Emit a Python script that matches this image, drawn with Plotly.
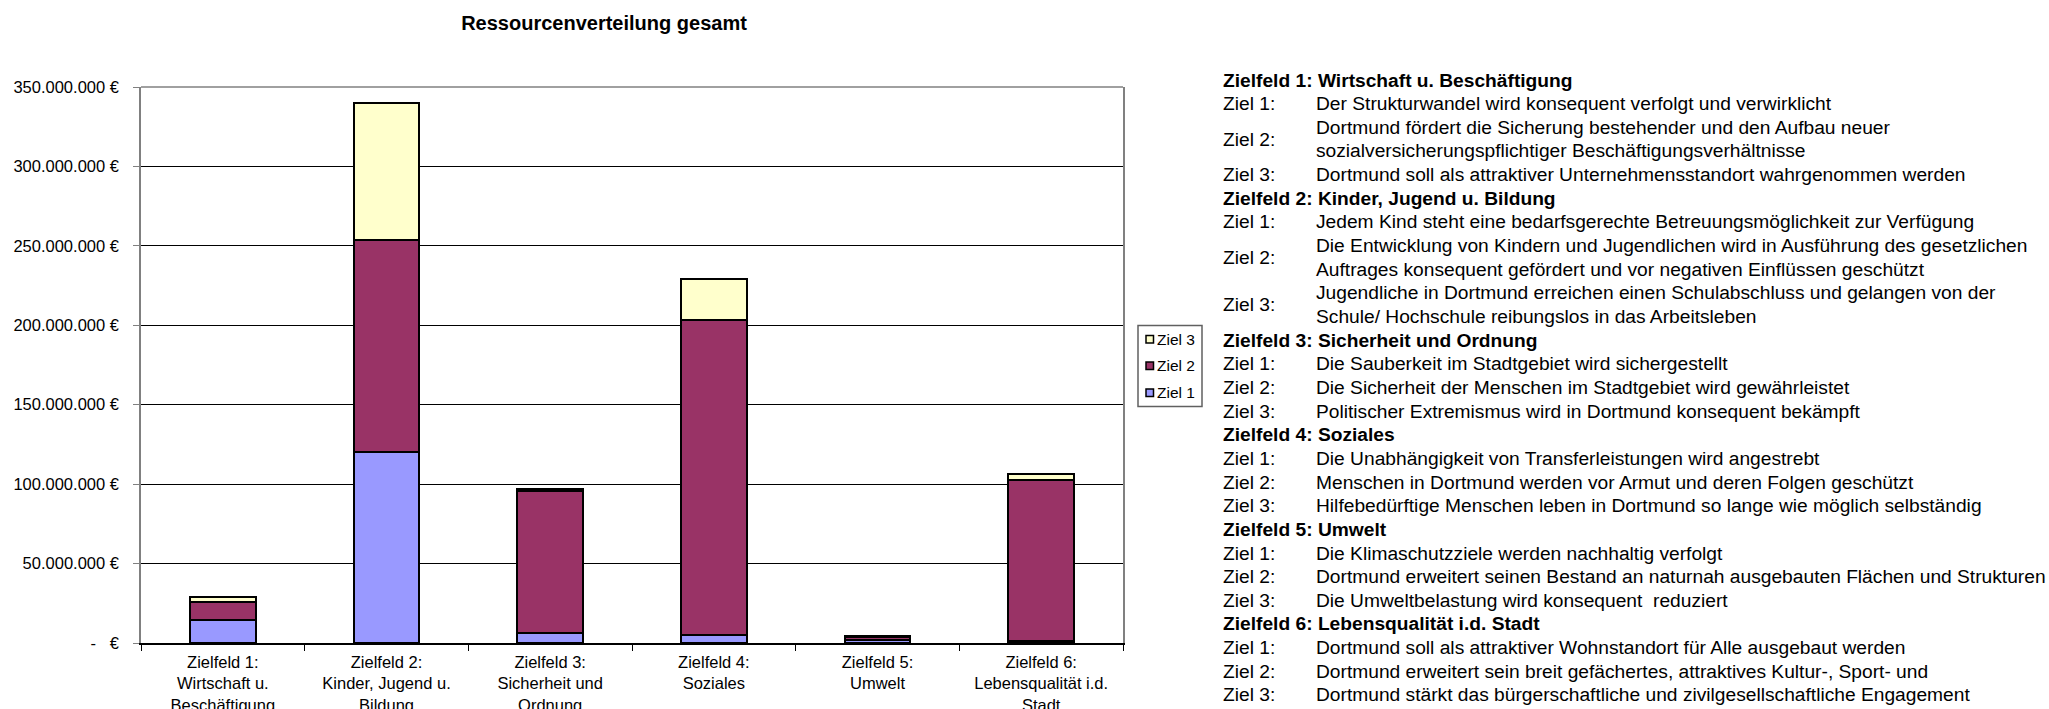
import plotly.graph_objects as go

W, H = 2049, 709
FONT = "Liberation Sans, Arial, sans-serif"

categories = [
    "Zielfeld 1:<br>Wirtschaft u.<br>Beschäftigung",
    "Zielfeld 2:<br>Kinder, Jugend u.<br>Bildung",
    "Zielfeld 3:<br>Sicherheit und<br>Ordnung",
    "Zielfeld 4:<br>Soziales",
    "Zielfeld 5:<br>Umwelt",
    "Zielfeld 6:<br>Lebensqualität i.d.<br>Stadt",
]
ziel1 = [14.5e6, 120e6, 6e6, 5e6, 2.0e6, 1.5e6]
ziel2 = [11.0e6, 134e6, 89.5e6, 198.5e6, 2.0e6, 101e6]
ziel3 = [3.5e6, 86e6, 1.2e6, 25.5e6, 0.6e6, 4.0e6]

series_names = ["Ziel 1", "Ziel 2", "Ziel 3"]
series_colors = ["#9999FF", "#993366", "#FFFFCC"]

y_tickvals = [0, 50e6, 100e6, 150e6, 200e6, 250e6, 300e6, 350e6]
y_ticktext = ["-\u00a0\u00a0\u00a0€", "50.000.000 €", "100.000.000 €", "150.000.000 €",
              "200.000.000 €", "250.000.000 €", "300.000.000 €", "350.000.000 €"]

title_text = "Ressourcenverteilung gesamt"

# Right-hand description block
fields = [
    ("Zielfeld 1: Wirtschaft u. Beschäftigung", [
        ["Der Strukturwandel wird konsequent verfolgt und verwirklicht"],
        ["Dortmund fördert die Sicherung bestehender und den Aufbau neuer",
         "sozialversicherungspflichtiger Beschäftigungsverhältnisse"],
        ["Dortmund soll als attraktiver Unternehmensstandort wahrgenommen werden"],
    ]),
    ("Zielfeld 2: Kinder, Jugend u. Bildung", [
        ["Jedem Kind steht eine bedarfsgerechte Betreuungsmöglichkeit zur Verfügung"],
        ["Die Entwicklung von Kindern und Jugendlichen wird in Ausführung des gesetzlichen",
         "Auftrages konsequent gefördert und vor negativen Einflüssen geschützt"],
        ["Jugendliche in Dortmund erreichen einen Schulabschluss und gelangen von der",
         "Schule/ Hochschule reibungslos in das Arbeitsleben"],
    ]),
    ("Zielfeld 3: Sicherheit und Ordnung", [
        ["Die Sauberkeit im Stadtgebiet wird sichergestellt"],
        ["Die Sicherheit der Menschen im Stadtgebiet wird gewährleistet"],
        ["Politischer Extremismus wird in Dortmund konsequent bekämpft"],
    ]),
    ("Zielfeld 4: Soziales", [
        ["Die Unabhängigkeit von Transferleistungen wird angestrebt"],
        ["Menschen in Dortmund werden vor Armut und deren Folgen geschützt"],
        ["Hilfebedürftige Menschen leben in Dortmund so lange wie möglich selbständig"],
    ]),
    ("Zielfeld 5: Umwelt", [
        ["Die Klimaschutzziele werden nachhaltig verfolgt"],
        ["Dortmund erweitert seinen Bestand an naturnah ausgebauten Flächen und Strukturen"],
        ["Die Umweltbelastung wird konsequent  reduziert"],
    ]),
    ("Zielfeld 6: Lebensqualität i.d. Stadt", [
        ["Dortmund soll als attraktiver Wohnstandort für Alle ausgebaut werden"],
        ["Dortmund erweitert sein breit gefächertes, attraktives Kultur-, Sport- und"],
        ["Dortmund stärkt das bürgerschaftliche und zivilgesellschaftliche Engagement"],
    ]),
]

# plot area in pixels
PL, PR, PT, PB = 141, 1123, 87, 643


def px2x(px):
    return (px - PL) / (PR - PL)


def px2y(py):
    return (PB - py) / (PB - PT)


fig = go.Figure()
for name, vals, col in zip(series_names, [ziel1, ziel2, ziel3], series_colors):
    fig.add_trace(go.Bar(
        name=name, x=categories, y=vals, showlegend=False,
        marker=dict(color=col, line=dict(color="black", width=2)),
    ))

annotations = []
shapes = []

# description text
TXT_SIZE = 19.2
LINE0, LSTEP = 80, 23.65
XLAB, XTXT = 1221, 1314
i = 0
for header, goals in fields:
    annotations.append(dict(
        text="<b>" + header + "</b>", x=px2x(XLAB), y=px2y(LINE0 + i * LSTEP),
        xref="paper", yref="paper", xanchor="left", yanchor="middle",
        showarrow=False, font=dict(family=FONT, size=TXT_SIZE, color="black")))
    i += 1
    for k, lines in enumerate(goals):
        ymid = LINE0 + (i + (len(lines) - 1) / 2) * LSTEP
        annotations.append(dict(
            text="Ziel %d:" % (k + 1), x=px2x(XLAB), y=px2y(ymid),
            xref="paper", yref="paper", xanchor="left", yanchor="middle",
            showarrow=False, font=dict(family=FONT, size=TXT_SIZE, color="black")))
        for ln in lines:
            annotations.append(dict(
                text=ln, x=px2x(XTXT), y=px2y(LINE0 + i * LSTEP),
                xref="paper", yref="paper", xanchor="left", yanchor="middle",
                showarrow=False, font=dict(family=FONT, size=TXT_SIZE, color="black")))
            i += 1

# legend (drawn manually, Ziel 3 on top)
LB_X0, LB_X1, LB_Y0, LB_Y1 = 1138, 1202, 325.5, 406.5
shapes.append(dict(type="rect", xref="paper", yref="paper",
                   x0=px2x(LB_X0), x1=px2x(LB_X1), y0=px2y(LB_Y0), y1=px2y(LB_Y1),
                   line=dict(color="#606060", width=1.5), fillcolor="white"))
leg_y = [392.7, 365.8, 339.3]  # Ziel 1, Ziel 2, Ziel 3
for name, col, yy in zip(series_names, series_colors, leg_y):
    shapes.append(dict(type="rect", xref="paper", yref="paper",
                       x0=px2x(1146), x1=px2x(1153.5), y0=px2y(yy - 3.8), y1=px2y(yy + 3.8),
                       line=dict(color="black", width=1.5), fillcolor=col))
    annotations.append(dict(text=name, x=px2x(1155), y=px2y(yy), xref="paper", yref="paper",
                            xanchor="left", yanchor="middle", showarrow=False,
                            font=dict(family=FONT, size=15.5, color="black")))

# top border of plot area (gray)
shapes.append(dict(type="line", xref="paper", yref="paper", x0=0, x1=1, y0=1, y1=1,
                   line=dict(color="#808080", width=1.5), layer="above"))

fig.update_layout(
    width=W, height=H, autosize=False,
    paper_bgcolor="white", plot_bgcolor="white",
    margin=dict(l=PL, r=W - PR, t=PT, b=H - PB, pad=0, autoexpand=False),
    barmode="stack", bargap=0.6, showlegend=False,
    font=dict(family=FONT, size=16, color="black"),
    title=dict(text="<b>" + title_text + "</b>", x=604 / W, y=1 - 23 / H,
               xanchor="center", yanchor="middle",
               font=dict(family=FONT, size=20, color="black")),
    xaxis=dict(
        showline=True, linecolor="black", linewidth=2, automargin=False,
        ticks="outside", tickson="boundaries", ticklen=6, tickcolor="black",
        showgrid=False, ticklabelstandoff=3,
        tickfont=dict(family=FONT, size=16.5, color="black"),
        fixedrange=True,
    ),
    yaxis=dict(
        range=[0, 350e6], tickvals=y_tickvals, ticktext=y_ticktext, automargin=False,
        showline=True, linecolor="#808080", linewidth=1.5, mirror=True,
        ticks="outside", ticklen=6, tickcolor="#808080",
        showgrid=True, gridcolor="black", gridwidth=1,
        zeroline=False, ticklabelstandoff=11,
        tickfont=dict(family=FONT, size=16.5, color="black"),
    ),
    annotations=annotations,
    shapes=shapes,
)

fig.write_html(
    "out.html",
    config={"displayModeBar": False},
    post_script="document.body.style.margin='0';document.body.style.padding='0';"
                "document.body.style.overflow='hidden';",
)
